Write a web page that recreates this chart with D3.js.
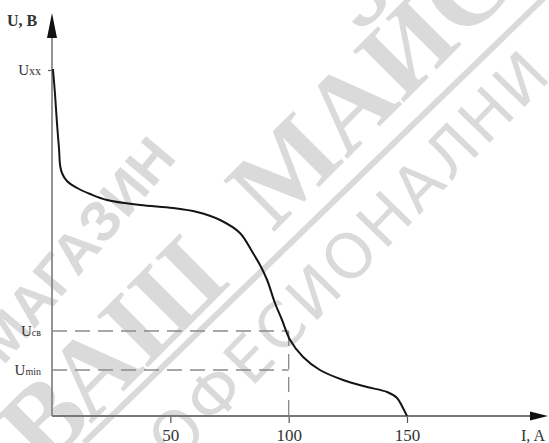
<!DOCTYPE html>
<html>
<head>
<meta charset="utf-8">
<script src="https://cdn.jsdelivr.net/npm/d3@7"></script>
<style>
  html, body { margin: 0; padding: 0; background: #fff; }
  svg { display: block; }
</style>
</head>
<body>
<svg id="chart" width="549" height="443"></svg>
<script>
// ---- data ----
const currentI = [0.4, 1.3, 2.1, 3.0, 3.4, 4.2, 6.3, 10.6, 16.1, 23.2, 37.2, 51.1, 61.3, 71.0, 79.4, 84.9, 87.9, 90.9, 94.2, 97.2, 100.6, 106.1, 113.2, 123.0, 133.1, 141.6, 145.8, 148.3, 150.0];
const voltageU = [86.75, 80.25, 73.25, 66.5, 62.75, 60.75, 58.75, 57.0, 55.5, 54.0, 52.75, 52.0, 51.0, 49.0, 45.75, 40.75, 37.75, 34.0, 28.25, 24.0, 19.0, 14.75, 11.5, 9.0, 7.25, 6.0, 4.5, 2.0, 0.0];
const xTickValues = [50, 100, 150];
const levelNames = ["Uxx", "Uсв", "Umin"];
const levelValues = [86.5, 21.25, 11.5];
const refCurrent = 100;
const axisLabelY = "U, B";
const axisLabelX = "I, A";
const watermarkWords = ["МАГАЗИН", "ВАШ", "МАЙСТОР", "ПРОФЕСИОНАЛНИ"];

// ---- drawing ----
const svg = d3.select("#chart");
const x = d3.scaleLinear().domain([0, 150]).range([52, 407]);
const y = d3.scaleLinear().domain([0, 100]).range([416, 16]);
const serif = "'Liberation Serif', 'DejaVu Serif', serif";
const wmColor = "#dadada";

// watermark (drawn first, behind the chart)
const wm = svg.append("g").attr("fill", wmColor);
wm.append("text")
  .attr("transform", "translate(178,158) rotate(-50)")
  .attr("text-anchor", "end")
  .attr("font-family", "'Liberation Sans', Arial, sans-serif")
  .attr("font-weight", "bold")
  .attr("font-size", 56)
  .text(watermarkWords[0]);
wm.append("text")
  .attr("transform", "translate(232,283) rotate(-45)")
  .attr("text-anchor", "end")
  .attr("font-family", serif)
  .attr("font-weight", "bold")
  .attr("font-size", 110)
  .text(watermarkWords[1]);
wm.append("text")
  .attr("transform", "translate(273,233) rotate(-45)")
  .attr("text-anchor", "start")
  .attr("font-family", serif)
  .attr("font-weight", "bold")
  .attr("font-size", 110)
  .text(watermarkWords[2]);
wm.append("line")
  .attr("x1", 84).attr("y1", 443).attr("x2", 549).attr("y2", -7)
  .attr("stroke", wmColor).attr("stroke-width", 6);
wm.append("text")
  .attr("transform", "translate(112,531) rotate(-45.8)")
  .attr("text-anchor", "start")
  .attr("font-family", "'DejaVu Sans', sans-serif")
  .attr("font-weight", "normal")
  .attr("font-size", 62)
  .attr("textLength", 632)
  .attr("lengthAdjust", "spacing")
  .text(watermarkWords[3]);

// dashed reference lines
const dashG = svg.append("g")
  .attr("stroke", "#8a8a8a").attr("stroke-width", 1.3)
  .attr("stroke-dasharray", "15,8").attr("fill", "none");
[levelValues[1], levelValues[2]].forEach(v => {
  dashG.append("line")
    .attr("x1", x(0)).attr("x2", x(refCurrent))
    .attr("y1", y(v)).attr("y2", y(v));
});
dashG.append("line")
  .attr("x1", x(refCurrent)).attr("x2", x(refCurrent))
  .attr("y1", y(levelValues[1])).attr("y2", y(0) + 7);

// x axis with ticks
const xAxis = d3.axisBottom(x).tickValues(xTickValues).tickSize(7).tickPadding(6).tickFormat(d3.format("d"));
const gx = svg.append("g").attr("transform", `translate(0,${y(0)})`).call(xAxis);
gx.select(".domain").remove();
gx.selectAll(".tick line").attr("stroke", "#555").attr("stroke-width", 1.2);
gx.selectAll(".tick text")
  .attr("font-family", serif).attr("font-size", 17).attr("fill", "#333");

// y axis tick at Uxx
const yAxis = d3.axisLeft(y).tickValues([levelValues[0]]).tickSize(4).tickFormat("");
const gy = svg.append("g").attr("transform", `translate(${x(0)},0)`).call(yAxis);
gy.select(".domain").remove();
gy.selectAll(".tick line").attr("stroke", "#555").attr("stroke-width", 1.2);

// axis lines
svg.append("line")
  .attr("x1", x(0)).attr("x2", 534).attr("y1", y(0)).attr("y2", y(0))
  .attr("stroke", "#777").attr("stroke-width", 1.8);
svg.append("line")
  .attr("x1", x(0)).attr("x2", x(0)).attr("y1", y(0)).attr("y2", 34)
  .attr("stroke", "#888").attr("stroke-width", 1.8);
// arrowheads
svg.append("path")
  .attr("d", `M548,${y(0)} L530,${y(0) - 4.5} L530,${y(0) + 4.5} Z`)
  .attr("fill", "#111");
svg.append("path")
  .attr("d", `M${x(0)},13 L${x(0) - 5},38 L${x(0) + 5},38 Z`)
  .attr("fill", "#111");

// curve
const line = d3.line()
  .x((d, i) => x(currentI[i]))
  .y((d, i) => y(voltageU[i]))
  .curve(d3.curveCatmullRom.alpha(0.5));
svg.append("path")
  .datum(voltageU)
  .attr("d", line)
  .attr("fill", "none")
  .attr("stroke", "#151515")
  .attr("stroke-width", 2);

// axis labels
svg.append("text")
  .attr("x", 7).attr("y", 26)
  .attr("font-family", serif).attr("font-weight", "bold")
  .attr("font-size", 16).attr("fill", "#333")
  .text(axisLabelY);
svg.append("text")
  .attr("x", 545).attr("y", 441)
  .attr("text-anchor", "end")
  .attr("font-family", serif)
  .attr("font-size", 16).attr("fill", "#333")
  .text(axisLabelX);

// level labels with subscripts
levelValues.forEach((v, i) => {
  const name = levelNames[i];
  const t = svg.append("text")
    .attr("x", 41).attr("y", y(v) + 5)
    .attr("text-anchor", "end")
    .attr("font-family", serif).attr("fill", "#333");
  t.append("tspan").attr("font-size", 15).text(name.charAt(0));
  t.append("tspan").attr("font-size", i === 0 ? 12 : 10).text(name.slice(1));
});
</script>
</body>
</html>
